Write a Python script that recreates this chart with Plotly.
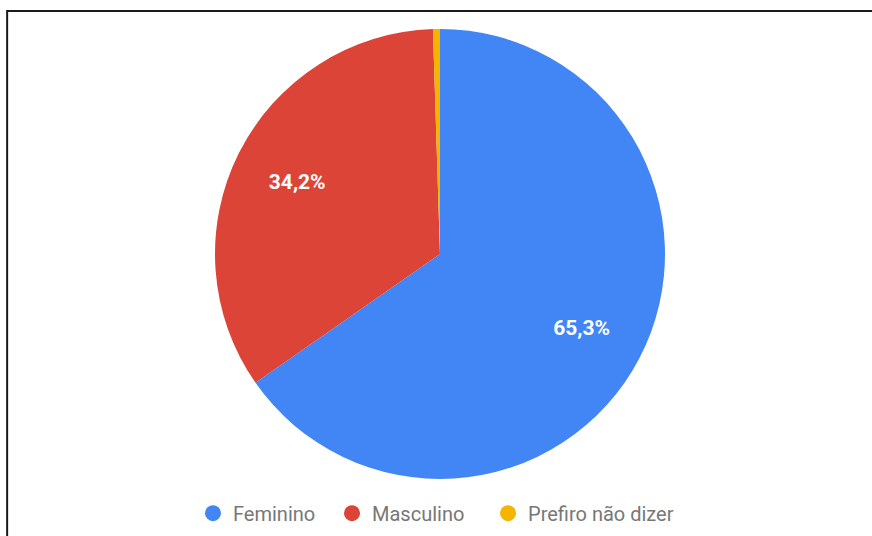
import plotly.graph_objects as go

labels = ["Feminino", "Masculino", "Prefiro não dizer"]
values = [65.3, 34.2, 0.5]
colors = ["#4285F4", "#DB4437", "#F4B400"]
label_fmt = ["%{percent:.1%}", "%{percent:.1%}", ""]

fig = go.Figure()

# filled pie
fig.add_trace(go.Pie(
    labels=labels,
    values=values,
    sort=False,
    direction="clockwise",
    rotation=0,
    marker=dict(colors=colors, line=dict(width=0)),
    textinfo="none",
    hoverinfo="skip",
    showlegend=False,
))

# transparent ring on top that carries the percentage labels
fig.add_trace(go.Pie(
    labels=labels,
    values=values,
    sort=False,
    direction="clockwise",
    rotation=0,
    hole=0.42,
    marker=dict(colors=["rgba(0,0,0,0)"] * 3, line=dict(width=0)),
    texttemplate=label_fmt,
    textposition="inside",
    insidetextorientation="horizontal",
    textfont=dict(family="Roboto", size=21, color="white", weight="bold"),
    hoverinfo="skip",
    showlegend=False,
))

# one legend per entry so the entries can be spaced freely
legend_ids = ["legend", "legend2", "legend3"]
legend_x = [0.2141, 0.375, 0.5556]
for name, col, lid in zip(labels, colors, legend_ids):
    fig.add_trace(go.Scatter(
        x=[None], y=[None], mode="markers", name=name, legend=lid,
        marker=dict(symbol="circle", size=16, color=col),
    ))

legend_style = dict(
    orientation="h", xanchor="left", y=-0.076, yanchor="middle",
    font=dict(family="Roboto", size=20, color="#777777"),
    itemclick=False, itemdoubleclick=False,
    bgcolor="rgba(0,0,0,0)",
)

fig.update_layout(
    width=872, height=536,
    margin=dict(l=8, r=0, t=29, b=57),
    paper_bgcolor="white",
    plot_bgcolor="white",
    separators=",.",
    xaxis=dict(visible=False),
    yaxis=dict(visible=False),
    showlegend=True,
    legend=dict(x=legend_x[0], **legend_style),
    legend2=dict(x=legend_x[1], **legend_style),
    legend3=dict(x=legend_x[2], **legend_style),
    shapes=[dict(
        type="path", xref="paper", yref="paper",
        path="M -0.001,-0.13 L -0.001,1.04 L 1.01,1.04",
        line=dict(color="#1a1a1a", width=2),
    )],
)

fig.write_html("out.html")
